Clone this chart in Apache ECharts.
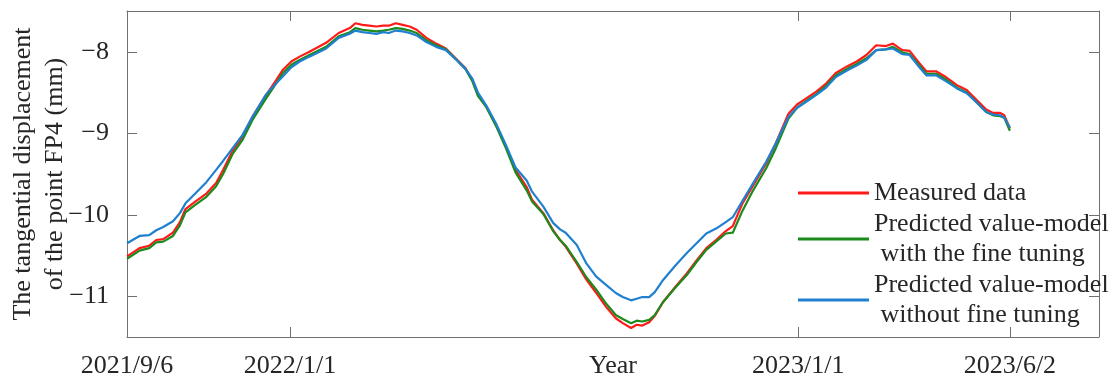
<!DOCTYPE html>
<html>
<head>
<meta charset="utf-8">
<script src="https://cdn.jsdelivr.net/npm/echarts@6/dist/echarts.min.js"></script>
<style>
  html, body { margin: 0; padding: 0; background: #fff; }
  #main { width: 1115px; height: 378px; }
</style>
</head>
<body>
<div id="main"></div>
<script>
// days since 2021/9/6
var days = [
  0, 9, 16, 21, 26, 33, 38, 42, 49, 57,
  64, 69, 76, 83, 90, 100, 107, 112, 118, 124,
  131, 143, 152, 160, 164, 169, 174, 179, 184, 188,
  193, 198, 203, 208, 215, 222, 229, 236, 243, 248,
  252, 258, 265, 272, 279, 287, 291, 299, 306, 311,
  315, 323, 330, 337, 344, 351, 356, 362, 366, 370,
  375, 379, 385, 394, 402, 409, 416, 423, 430, 435,
  442, 449, 459, 466, 475, 481, 488, 495, 502, 509,
  517, 524, 531, 538, 545, 550, 554, 557, 562, 569,
  574, 581, 588, 596, 603, 610, 617, 622, 627, 630,
  634
];
var measured = [
  -10.51, -10.41, -10.38, -10.31, -10.30, -10.22, -10.09, -9.93, -9.84, -9.74,
  -9.61, -9.45, -9.21, -9.04, -8.80, -8.53, -8.35, -8.22, -8.12, -8.06,
  -8.00, -7.89, -7.77, -7.71, -7.65, -7.67, -7.68, -7.69, -7.68, -7.68,
  -7.65, -7.67, -7.69, -7.73, -7.83, -7.90, -7.96, -8.08, -8.20, -8.35,
  -8.53, -8.67, -8.90, -9.16, -9.45, -9.66, -9.82, -9.98, -10.19, -10.31,
  -10.39, -10.60, -10.80, -10.96, -11.13, -11.27, -11.33, -11.39, -11.35, -11.36,
  -11.32, -11.24, -11.07, -10.88, -10.72, -10.56, -10.41, -10.31, -10.20, -10.14,
  -9.86, -9.66, -9.37, -9.12, -8.76, -8.65, -8.57, -8.49, -8.39, -8.26,
  -8.18, -8.12, -8.04, -7.92, -7.93, -7.90, -7.95, -7.98, -7.99, -8.14,
  -8.24, -8.24, -8.31, -8.41, -8.47, -8.59, -8.71, -8.75, -8.75, -8.78,
  -8.94
];
var withTuning = [
  -10.54, -10.44, -10.41, -10.34, -10.33, -10.26, -10.13, -9.97, -9.88, -9.78,
  -9.65, -9.50, -9.25, -9.08, -8.84, -8.57, -8.39, -8.26, -8.16, -8.10,
  -8.04, -7.94, -7.81, -7.76, -7.71, -7.73, -7.74, -7.75, -7.74, -7.73,
  -7.71, -7.72, -7.74, -7.77, -7.86, -7.92, -7.97, -8.09, -8.21, -8.36,
  -8.54, -8.68, -8.91, -9.18, -9.48, -9.70, -9.84, -9.99, -10.20, -10.31,
  -10.38, -10.58, -10.77, -10.92, -11.09, -11.23, -11.28, -11.33, -11.30, -11.31,
  -11.29, -11.23, -11.07, -10.89, -10.74, -10.58, -10.43, -10.33, -10.23, -10.22,
  -9.95, -9.72, -9.43, -9.18, -8.82, -8.69, -8.60, -8.52, -8.42, -8.29,
  -8.21, -8.15, -8.08, -7.98, -7.97, -7.94, -7.98, -8.01, -8.03, -8.17,
  -8.27, -8.27, -8.34, -8.44, -8.50, -8.62, -8.74, -8.78, -8.79, -8.81,
  -8.97
];
var withoutTuning = [
  -10.35, -10.26, -10.25, -10.19, -10.15, -10.08, -9.98, -9.86, -9.74, -9.60,
  -9.45, -9.34, -9.18, -9.02, -8.80, -8.52, -8.39, -8.30, -8.19, -8.12,
  -8.06, -7.96, -7.83, -7.78, -7.74, -7.76, -7.77, -7.78, -7.76, -7.77,
  -7.74, -7.75, -7.77, -7.80, -7.88, -7.94, -7.98, -8.09, -8.21, -8.33,
  -8.50, -8.66, -8.88, -9.14, -9.42, -9.58, -9.72, -9.90, -10.10, -10.18,
  -10.22, -10.37, -10.60, -10.76, -10.86, -10.96, -11.01, -11.05, -11.03, -11.01,
  -11.01, -10.95, -10.80, -10.62, -10.47, -10.35, -10.23, -10.17, -10.09, -10.03,
  -9.83, -9.63, -9.35, -9.12, -8.80, -8.69, -8.61, -8.53, -8.44, -8.31,
  -8.23, -8.17, -8.10, -7.98, -7.97, -7.96, -8.00, -8.03, -8.04, -8.19,
  -8.29, -8.29, -8.36, -8.45, -8.51, -8.62, -8.74, -8.77, -8.78, -8.81,
  -8.93
];

// axis ticks / labels
var xLabelDays = [0, 117, 482, 634];
var xLabelText = ['2021/9/6', '2022/1/1', '2023/1/1', '2023/6/2'];
var xTickDays = [117, 482, 634];
var yTicks = [-11, -10, -9, -8];
var xMax = 698;

var seriesNames = [
  'Measured data',
  'Predicted value-model\n with the fine tuning',
  'Predicted value-model\n without fine tuning'
];
var seriesColors = ['#ff1a1a', '#1c8a1c', '#1f80d0'];

function pairs(vals) {
  return days.map(function (d, i) { return [d, vals[i]]; });
}

var font = 'Liberation Serif, Times New Roman, serif';
var axisColor = '#707070';
var textColor = '#262626';

var chart = echarts.init(document.getElementById('main'), null, { renderer: 'canvas' });

var option = {
  animation: false,
  backgroundColor: '#fff',
  textStyle: { fontFamily: font },
  grid: { left: 127, right: 16, top: 11, bottom: 41, outerBoundsMode: 'none', containLabel: false },
  legend: {
    orient: 'vertical',
    left: 793,
    top: 173,
    icon: 'rect',
    itemWidth: 71,
    itemHeight: 3,
    itemGap: 1,
    textStyle: { fontFamily: font, fontSize: 26, color: textColor, lineHeight: 30 },
    data: seriesNames
  },
  xAxis: [
    {
      type: 'value',
      min: 0,
      max: xMax,
      position: 'bottom',
      name: 'Year',
      nameLocation: 'middle',
      nameGap: 16,
      nameMoveOverlap: false,
      nameTextStyle: { fontFamily: font, fontSize: 26, color: textColor, verticalAlign: 'top' },
      axisLine: { onZero: false, lineStyle: { color: axisColor, width: 1 } },
      axisTick: { inside: true, length: 10, customValues: xTickDays, lineStyle: { color: axisColor } },
      axisLabel: {
        customValues: xLabelDays,
        margin: 16,
        fontFamily: font,
        fontSize: 26,
        color: textColor,
        formatter: function (v) { return xLabelText[xLabelDays.indexOf(v)]; }
      },
      splitLine: { show: false }
    },
    {
      type: 'value',
      min: 0,
      max: xMax,
      position: 'top',
      axisLine: { onZero: false, lineStyle: { color: axisColor, width: 1 } },
      axisTick: { inside: true, length: 10, customValues: xTickDays, lineStyle: { color: axisColor } },
      axisLabel: { show: false },
      splitLine: { show: false }
    }
  ],
  yAxis: [
    {
      type: 'value',
      min: -11.5,
      max: -7.5,
      position: 'left',
      name: 'The tangential displacement\nof the point FP4 (mm)',
      nameLocation: 'middle',
      nameGap: 56,
      nameMoveOverlap: false,
      nameTextStyle: { fontFamily: font, fontSize: 26, color: textColor, lineHeight: 32 },
      axisLine: { onZero: false, lineStyle: { color: axisColor, width: 1 } },
      axisTick: { inside: true, length: 10, customValues: yTicks, lineStyle: { color: axisColor } },
      axisLabel: {
        customValues: yTicks,
        margin: 18,
        fontFamily: font,
        fontSize: 26,
        color: textColor,
        formatter: function (v) { return '\u2212' + Math.abs(v); }
      },
      splitLine: { show: false }
    },
    {
      type: 'value',
      min: -11.5,
      max: -7.5,
      position: 'right',
      axisLine: { onZero: false, lineStyle: { color: axisColor, width: 1 } },
      axisTick: { inside: true, length: 10, customValues: yTicks, lineStyle: { color: axisColor } },
      axisLabel: { show: false },
      splitLine: { show: false }
    }
  ],
  series: [measured, withTuning, withoutTuning].map(function (vals, i) {
    return {
      name: seriesNames[i],
      type: 'line',
      xAxisIndex: 0,
      yAxisIndex: 0,
      symbol: 'none',
      smooth: false,
      color: seriesColors[i],
      lineStyle: { width: 2.2, color: seriesColors[i] },
      z: 2 + i,
      data: pairs(vals)
    };
  })
};
chart.setOption(option);
</script>
</body>
</html>
